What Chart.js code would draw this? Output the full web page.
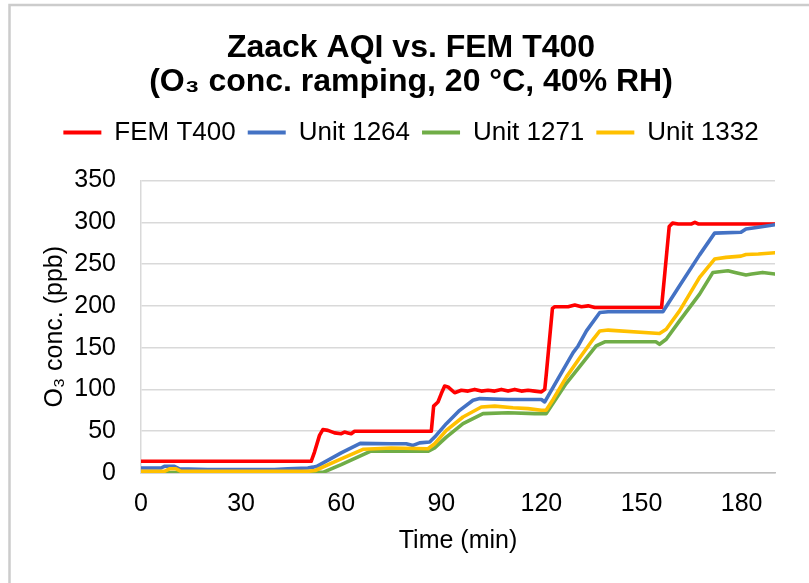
<!DOCTYPE html>
<html>
<head>
<meta charset="utf-8">
<script src="https://cdn.jsdelivr.net/npm/chart.js@4.4.1/dist/chart.umd.min.js"></script>
<style>
  html, body { margin: 0; padding: 0; background: #fff; }
  #wrap { width: 809px; height: 583px; position: relative; }
</style>
</head>
<body>
<div id="wrap"><canvas id="c" width="809" height="583"></canvas></div>
<script>
// ---- Data ----
const xTickValues = [0, 30, 60, 90, 120, 150, 180];
const yTickValues = [0, 50, 100, 150, 200, 250, 300, 350];
const seriesNames = ['FEM T400', 'Unit 1264', 'Unit 1271', 'Unit 1332'];
const seriesColors = ['#ff0000', '#4472c4', '#70ad47', '#ffc000'];

const femTime   = [0, 51, 52, 53.5, 54.5, 56, 58, 60, 61, 62, 63, 64, 87, 87.7, 89, 90, 91, 92, 94, 96, 98, 100, 102, 104, 106, 108, 110, 112, 114, 116, 118, 120, 121, 121.5, 123.3, 124, 128, 130, 132, 134, 136, 156, 157, 158.3, 159.3, 161, 165, 166, 167, 190];
const femValues = [14, 14, 25, 45, 52, 51, 48, 47, 49, 48, 47, 50, 50, 80, 85, 95, 104, 103, 96, 99, 98, 100, 98, 99, 98, 100, 98, 100, 98, 99, 98, 97, 100, 120, 197, 199, 199, 201, 199, 200, 198, 198, 240, 295, 299, 298, 298, 300, 298, 298];

const u1264Time   = [0, 6, 7, 10, 11.5, 20, 30, 40, 44, 50, 51.5, 52.7, 60, 65.7, 75, 79.5, 81.5, 83.5, 86.5, 88, 91.5, 95.5, 99.5, 101.5, 110, 120, 121, 125, 129.5, 131, 133.5, 137.5, 140, 156.4, 161.4, 167.4, 171.9, 179.8, 181.3, 185, 190];
const u1264Values = [6, 6, 8, 8, 5, 4, 4, 4, 5, 6, 7, 8, 24, 35.5, 35, 35, 33, 36, 37, 43, 59, 75, 87, 89, 88, 88, 85, 113, 144, 152, 170, 192, 193, 193, 224, 261, 287, 288, 292, 294, 297];

const u1271Time   = [0, 10, 20, 25, 30, 40, 50, 54.7, 60, 68.7, 75, 86, 88, 91.5, 96.5, 102.5, 110, 118, 121.4, 127.4, 131.4, 136.4, 139, 154.3, 155.4, 157.4, 161.4, 167.4, 171.4, 175.9, 178, 181.3, 183, 186.3, 190];
const u1271Values = [0.5, 0.5, 1.5, 1, 1.5, 0.5, 0.5, 1, 10, 26, 26, 26, 30, 43, 59, 71, 72, 71, 71, 107, 127, 152, 157, 157, 154, 160, 182, 214, 240, 242, 240, 237, 238, 240, 238];

const u1332Time   = [0, 7, 8.5, 10.5, 12, 45, 50, 52.2, 60, 66.7, 75, 86, 88, 91.5, 96.5, 102, 106, 111.5, 116, 120, 121.4, 123.5, 127.5, 131.5, 135.5, 137.5, 140, 155.4, 157.4, 161.4, 167.4, 171.9, 175.3, 179.8, 181.3, 185, 190];
const u1332Values = [2, 2, 5, 5, 2, 2, 2, 3, 17, 28.5, 30, 29, 35, 51, 67, 79, 80, 78, 77, 75, 75, 88, 115, 138, 160, 170, 171, 167, 172, 194, 234, 256, 258, 259.5, 261.5, 262, 263.5];

const seriesTimes  = [femTime, u1264Time, u1271Time, u1332Time];
const seriesValues = [femValues, u1264Values, u1271Values, u1332Values];

// ---- Chart ----
const FONT = "'Liberation Sans', Arial, sans-serif";

const datasets = seriesNames.map((name, i) => ({
  label: name,
  data: seriesTimes[i].map((t, k) => ({ x: t, y: seriesValues[i][k] })),
  borderColor: seriesColors[i],
  backgroundColor: seriesColors[i],
  borderWidth: 3.6,
  pointRadius: 0,
  tension: 0,
  borderJoinStyle: 'round',
  borderCapStyle: 'round',
  xAxisID: 'x',
  yAxisID: 'y',
  order: seriesNames.length - i
}));

const frame = {
  id: 'frame',
  afterDraw(chart) {
    const ctx = chart.ctx;
    ctx.save();
    ctx.strokeStyle = '#cccccc';
    ctx.lineWidth = 2.5;
    ctx.beginPath();
    ctx.moveTo(9.5, 583);
    ctx.lineTo(9.5, 5);
    ctx.lineTo(809, 5);
    ctx.stroke();
    ctx.restore();
  }
};

new Chart(document.getElementById('c'), {
  type: 'line',
  data: { datasets },
  plugins: [frame],
  options: {
    responsive: false,
    animation: false,
    layout: { padding: { left: 13, right: 0, top: 0, bottom: 0 } },
    plugins: {
      tooltip: { enabled: false },
      title: {
        display: true,
        text: ['Zaack AQI vs. FEM T400', '(O\u2083 conc. ramping, 20 \u00B0C, 40% RH)'],
        color: '#000',
        font: { family: FONT, size: 32, weight: 'bold', lineHeight: 1.07 },
        padding: { top: 31, bottom: 8 }
      },
      legend: {
        display: true,
        position: 'top',
        labels: {
          color: '#000',
          font: { family: FONT, size: 26 },
          boxWidth: 38,
          boxHeight: 4,
          padding: 12,
          generateLabels(chart) {
            return Chart.defaults.plugins.legend.labels.generateLabels(chart)
              .map(l => Object.assign({}, l, { lineWidth: 0 }))
              .sort((a, b) => a.datasetIndex - b.datasetIndex);
          }
        }
      }
    },
    scales: {
      x: {
        type: 'linear',
        position: 'bottom',
        min: 0,
        max: 190,
        afterBuildTicks(s) { s.ticks = xTickValues.map(v => ({ value: v })); },
        afterFit(s) { s.height = 110; },
        grid: { display: false, drawTicks: false },
        border: { display: true, color: '#bfbfbf', width: 1.5 },
        ticks: { color: '#000', font: { family: FONT, size: 25 }, padding: 16, maxRotation: 0, autoSkip: false },
        title: {
          display: true,
          text: 'Time (min)',
          color: '#000',
          font: { family: FONT, size: 25 },
          padding: { top: 0, bottom: 27 }
        }
      },
      xTop: {
        type: 'linear',
        position: 'top',
        min: 0,
        max: 1,
        display: true,
        afterFit(s) { s.height = 179 - 154; },
        grid: { display: false, drawTicks: false },
        border: { display: false },
        ticks: { display: false }
      },
      y: {
        type: 'linear',
        position: 'left',
        min: 0,
        max: 350,
        afterBuildTicks(s) { s.ticks = yTickValues.map(v => ({ value: v })); },
        afterFit(s) { s.width = 128; },
        grid: { color: '#d9d9d9', lineWidth: 1.5, drawTicks: false },
        border: { display: true, color: '#d9d9d9', width: 1.5 },
        ticks: { color: '#000', font: { family: FONT, size: 25 }, padding: 25 },
        title: {
          display: true,
          text: 'O\u2083 conc. (ppb)',
          color: '#000',
          font: { family: FONT, size: 25 },
          padding: { top: 27, bottom: 0 }
        }
      },
      yRight: {
        type: 'linear',
        position: 'right',
        min: 0,
        max: 1,
        display: true,
        afterFit(s) { s.width = 34; },
        grid: { display: false, drawTicks: false },
        border: { display: false },
        ticks: { display: false }
      }
    }
  }
});
</script>
</body>
</html>
